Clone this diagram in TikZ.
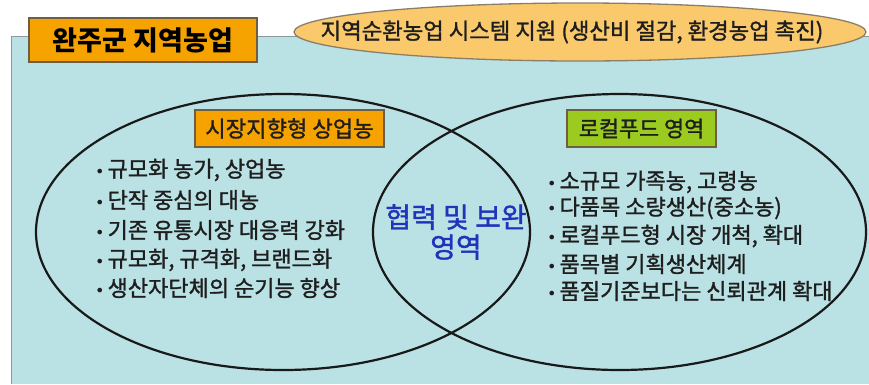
\documentclass[tikz,border=0pt]{standalone}
\usepackage{fontspec}
\setmainfont{Noto Sans CJK KR}
\newfontfamily\medfont[FakeBold=1.3]{Noto Sans CJK KR}
\newfontfamily\bulfont{DejaVu Sans}
\usetikzlibrary{shapes.geometric}
\definecolor{bgblue}{HTML}{BAE1E4}
\definecolor{frameline}{HTML}{8A9A9C}
\definecolor{titleorange}{HTML}{F6A300}
\definecolor{lightorange}{HTML}{F9C96C}
\definecolor{boxline}{HTML}{6E5E44}
\definecolor{leafgreen}{HTML}{9ACB1E}
\definecolor{textdark}{HTML}{1E1E1E}
\definecolor{lensblue}{HTML}{2233BB}
\tikzset{
  labelbox/.style={draw=boxline, line width=1.3pt, inner sep=0pt, text=textdark},
  venn/.style={ellipse, draw=black!90, line width=2.2pt, inner sep=0pt},
  bullet/.style={anchor=west, inner sep=0pt, text=textdark, font=\medfont\fontsize{22}{22}\selectfont},
}
\newcommand{\bul}{{\bulfont\fontsize{16}{16}\selectfont •}\hspace{3pt}}
\begin{document}
\begin{tikzpicture}[x=1pt,y=-1pt]
\useasboundingbox (0,0) rectangle (869,384);
\fill[bgblue] (11,36) rectangle (869,384);
\draw[frameline, line width=0.8pt] (11,384) -- (11,36) -- (869,36);

% Venn ellipses
\node[venn, minimum width=494pt, minimum height=276pt] (leftset) at (283,232) {};
\node[venn, minimum width=493pt, minimum height=276pt] (rightset) at (619.5,232) {};

% top ellipse
\node[ellipse, draw=boxline!80, line width=1.3pt, fill=lightorange, minimum width=572pt, minimum height=58pt, inner sep=0pt] (support) at (580,32) {};
\node[text=textdark, font=\medfont\fontsize{22.3}{22.3}\selectfont, inner sep=0pt] (supporttext) at (572,32) {지역순환농업 시스템 지원 (생산비 절감, 환경농업 촉진)};

% title box
\node[labelbox, fill=titleorange, minimum width=228pt, minimum height=44pt, font=\bfseries\fontsize{27}{27}\selectfont, text=black] (title) at (143,40) {완주군 지역농업};

% category boxes
\node[labelbox, fill=titleorange, minimum width=189pt, minimum height=37pt, font=\medfont\fontsize{22.2}{22.2}\selectfont] (market) at (289.5,128.5) {시장지향형 상업농};
\node[labelbox, fill=leafgreen, minimum width=149pt, minimum height=37pt, font=\medfont\fontsize{21.8}{21.8}\selectfont] (local) at (641.5,128.5) {로컬푸드 영역};

% left list
\node[bullet] (l1) at (95,170) {\bul 규모화 농가, 상업농};
\node[bullet] (l2) at (95,200) {\bul 단작 중심의 대농};
\node[bullet] (l3) at (95,230) {\bul 기존 유통시장 대응력 강화};
\node[bullet] (l4) at (95,260) {\bul 규모화, 규격화, 브랜드화};
\node[bullet] (l5) at (95,288) {\bul 생산자단체의 순기능 향상};

% right list
\node[bullet] (r1) at (547,182) {\bul 소규모 가족농, 고령농};
\node[bullet] (r2) at (547,208) {\bul 다품목 소량생산(중소농)};
\node[bullet] (r3) at (547,236) {\bul 로컬푸드형 시장 개척, 확대};
\node[bullet] (r4) at (547,264) {\bul 품목별 기획생산체계};
\node[bullet] (r5) at (547,291) {\bul 품질기준보다는 신뢰관계 확대};

% lens text
\node[text=lensblue, font=\medfont\fontsize{28}{30}\selectfont, align=center, inner sep=0pt] (lens) at (456,232) {협력 및 보완\\영역};
\end{tikzpicture}
\end{document}
